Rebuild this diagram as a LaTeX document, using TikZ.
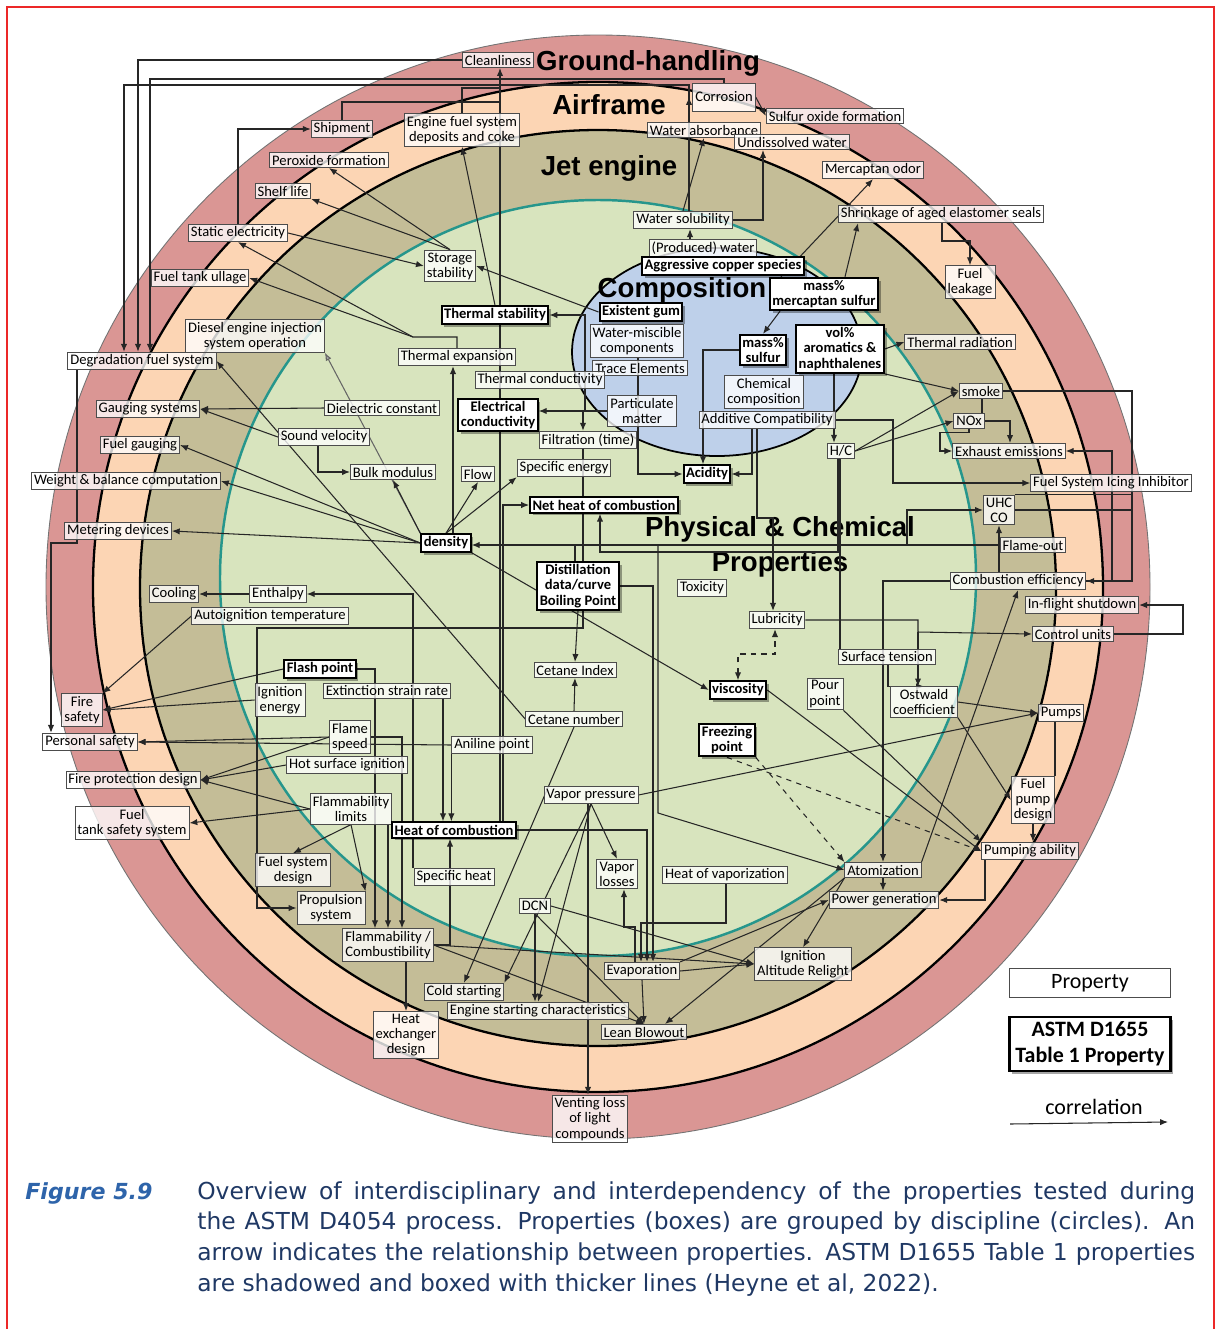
\documentclass[tikz,border=0pt]{standalone}
\usepackage{fontspec}
\usepackage{tikz}
\usetikzlibrary{arrows.meta, shadows}
\newfontfamily\boxfont{Carlito}
\newfontfamily\headfont{Liberation Sans}
\newfontfamily\capfont{DejaVu Sans}
\definecolor{ringred}{RGB}{218,150,148}
\definecolor{ringpeach}{RGB}{252,213,180}
\definecolor{ringtan}{RGB}{196,189,151}
\definecolor{ringgreen}{RGB}{216,228,190}
\definecolor{ringteal}{RGB}{38,150,140}
\definecolor{compblue}{RGB}{190,208,234}
\definecolor{framered}{RGB}{236,40,40}
\definecolor{figblue}{RGB}{46,100,170}
\definecolor{capnavy}{RGB}{31,56,100}
\pgfdeclarelayer{rings}
\pgfdeclarelayer{lines}
\pgfsetlayers{rings,lines,main}
\tikzstyle{prop} = [rectangle, draw=black!70, line width=0.5pt, fill=white, fill opacity=0.78, text opacity=1, inner sep=1.4pt, align=center, font=\boxfont\fontsize{8.3}{8.6}\selectfont]
\tikzstyle{tableprop} = [prop, draw=black, line width=1.2pt, fill opacity=1, font=\boxfont\bfseries\fontsize{8.3}{8.6}\selectfont, drop shadow={shadow xshift=1.6pt, shadow yshift=-1.6pt, opacity=0.35, fill=black}]
\tikzstyle{ringtitle} = [font=\headfont\bfseries\fontsize{15.7}{19.9}\selectfont, align=center, inner sep=0pt]
\tikzstyle{link} = [draw=black!85, line width=0.6pt, ->, >={Latex[length=4.5pt,width=3.6pt]}]
\tikzstyle{dlink} = [link, dashed]
\tikzstyle{plain} = [draw=black!85, line width=0.6pt]

\begin{document}
\begin{tikzpicture}[x=0.02cm, y=-0.02cm]
        \useasboundingbox (0,0) rectangle (1219,1329);
        \draw [framered, line width=1.2pt] (7,1329) -- (7,7) -- (1214,7) -- (1214,1329);

        \node (clean) [prop] at (498,60) {Cleanliness};
        \node (shipment) [prop] at (342,129) {Shipment};
        \node (engine-deposits) [prop] at (462,130) {Engine fuel system\\deposits and coke};
        \node (corrosion) [prop, minimum height=0.56cm] at (724,97) {Corrosion};
        \node (sulfur-oxide) [prop] at (835,116) {Sulfur oxide formation};
        \node (water-absorb) [prop] at (704,130) {Water absorbance};
        \node (undissolved) [prop] at (792,142) {Undissolved water};
        \node (mercaptan-odor) [prop] at (873,170) {Mercaptan odor};
        \node (peroxide) [prop] at (329,160) {Peroxide formation};
        \node (shelf-life) [prop] at (283,191) {Shelf life};
        \node (static) [prop] at (238,233) {Static electricity};
        \node (water-sol) [prop] at (683,220) {Water solubility};
        \node (shrinkage) [prop] at (941,214) {Shrinkage of aged elastomer seals};
        \node (produced-water) [prop] at (703,248) {(Produced) water};
        \node (copper) [tableprop] at (723,266) {Aggressive copper species};
        \node (storage) [prop] at (450,266) {Storage\\stability};
        \node (ullage) [prop] at (200,278) {Fuel tank ullage};
        \node (fuel-leakage) [prop] at (970,282) {Fuel\\leakage};
        \node (mercaptan) [tableprop] at (824,294) {mass\%\\mercaptan sulfur};
        \node (gum) [tableprop] at (641,312) {Existent gum};
        \node (thermal-stab) [tableprop] at (495,315) {Thermal stability};
        \node (water-misc) [prop] at (637,341) {Water-miscible\\components};
        \node (diesel) [prop] at (255,336) {Diesel engine injection\\system operation};
        \node (degradation) [prop] at (142,361) {Degradation fuel system};
        \node (thermal-exp) [prop] at (457,357) {Thermal expansion};
        \node (sulfur) [tableprop] at (763,350) {mass\%\\sulfur};
        \node (aromatics) [tableprop] at (840,349) {vol\%\\aromatics \&\\naphthalenes};
        \node (thermal-rad) [prop] at (960,342) {Thermal radiation};
        \node (trace) [prop] at (640,368) {Trace Elements};
        \node (thermal-cond) [prop] at (540,380) {Thermal conductivity};
        \node (chem-comp) [prop] at (764,392) {Chemical\\composition};
        \node (smoke) [prop] at (981,391) {smoke};
        \node (gauging-sys) [prop] at (148,409) {Gauging systems};
        \node (dielectric) [prop] at (382,408) {Dielectric constant};
        \node (elec-cond) [tableprop] at (498,415) {Electrical\\conductivity};
        \node (particulate) [prop] at (642,411) {Particulate\\matter};
        \node (additive) [prop] at (767,420) {Additive Compatibility};
        \node (nox) [prop] at (969,421) {NOx};
        \node (sound) [prop] at (324,437) {Sound velocity};
        \node (fuel-gauging) [prop] at (140,445) {Fuel gauging};
        \node (filtration) [prop] at (588,440) {Filtration (time)};
        \node (hc) [prop] at (841,451) {H/C};
        \node (exhaust) [prop] at (1009,451) {Exhaust emissions};
        \node (bulk) [prop] at (393,472) {Bulk modulus};
        \node (flow) [prop] at (478,474) {Flow};
        \node (spec-energy) [prop] at (564,468) {Specific energy};
        \node (acidity) [tableprop] at (707,474) {Acidity};
        \node (weight) [prop] at (126,481) {Weight \& balance computation};
        \node (fsii) [prop] at (1111,483) {Fuel System Icing Inhibitor};
        \node (net-heat) [tableprop] at (604,505) {Net heat of combustion};
        \node (uhc) [prop] at (999,510) {UHC\\CO};
        \node (metering) [prop] at (118,531) {Metering devices};
        \node (density) [tableprop] at (446,543) {density};
        \node (flame-out) [prop] at (1033,545) {Flame-out};
        \node (distillation) [tableprop] at (578,586) {Distillation\\data/curve\\Boiling Point};
        \node (toxicity) [prop] at (702,588) {Toxicity};
        \node (comb-eff) [prop] at (1018,581) {Combustion efficiency};
        \node (cooling) [prop] at (174,594) {Cooling};
        \node (enthalpy) [prop] at (278,594) {Enthalpy};
        \node (autoignition) [prop] at (270,616) {Autoignition temperature};
        \node (inflight) [prop] at (1082,605) {In-flight shutdown};
        \node (lubricity) [prop] at (777,620) {Lubricity};
        \node (control) [prop] at (1073,634) {Control units};
        \node (surface) [prop] at (887,657) {Surface tension};
        \node (flash) [tableprop] at (320,669) {Flash point};
        \node (cetane-index) [prop] at (575,670) {Cetane Index};
        \node (pour) [prop] at (825,694) {Pour\\point};
        \node (viscosity) [tableprop] at (738,690) {viscosity};
        \node (ostwald) [prop] at (924,702) {Ostwald\\coefficient};
        \node (ign-energy) [prop] at (280,700) {Ignition\\energy};
        \node (extinction) [prop] at (387,691) {Extinction strain rate};
        \node (fire-safety) [prop] at (82,710) {Fire\\safety};
        \node (pumps) [prop] at (1061,713) {Pumps};
        \node (cetane-number) [prop] at (574,719) {Cetane number};
        \node (freezing) [tableprop] at (727,740) {Freezing\\point};
        \node (flame-speed) [prop] at (350,737) {Flame\\speed};
        \node (personal) [prop] at (90,742) {Personal safety};
        \node (aniline) [prop] at (492,745) {Aniline point};
        \node (hot-surface) [prop] at (347,765) {Hot surface ignition};
        \node (fire-prot) [prop] at (133,780) {Fire protection design};
        \node (vapor-press) [prop] at (591,795) {Vapor pressure};
        \node (pump-design) [prop] at (1033,800) {Fuel\\pump\\design};
        \node (flam-limits) [prop] at (351,809) {Flammability\\limits};
        \node (tank-safety) [prop] at (132,823) {Fuel\\tank safety system};
        \node (heat-comb) [tableprop] at (454,830) {Heat of combustion};
        \node (pumping) [prop] at (1030,851) {Pumping ability};
        \node (fuel-sys-design) [prop] at (293,870) {Fuel system\\design};
        \node (vapor-losses) [prop] at (617,874) {Vapor\\losses};
        \node (heat-vap) [prop] at (725,875) {Heat of vaporization};
        \node (spec-heat) [prop] at (454,877) {Specific heat};
        \node (atomization) [prop] at (883,870) {Atomization};
        \node (propulsion) [prop] at (331,908) {Propulsion\\system};
        \node (power) [prop] at (884,900) {Power generation};
        \node (dcn) [prop] at (535,906) {DCN};
        \node (flam-comb) [prop] at (388,945) {Flammability /\\Combustibility};
        \node (relight) [prop] at (803,964) {Ignition\\Altitude Relight};
        \node (evaporation) [prop] at (642,971) {Evaporation};
        \node (cold) [prop] at (464,992) {Cold starting};
        \node (eng-start) [prop] at (538,1011) {Engine starting characteristics};
        \node (heat-exch) [prop] at (406,1035) {Heat\\exchanger\\design};
        \node (lean) [prop] at (644,1032) {Lean Blowout};
        \node (venting) [prop] at (590,1119) {Venting loss\\of light\\compounds};

        \node (leg-prop) [prop, fill opacity=1, minimum width=3.22cm, minimum height=0.58cm, font=\boxfont\fontsize{12.5}{14}\selectfont] at (1090,983) {Property};
        \node (leg-table) [tableprop, minimum width=3.22cm, minimum height=1.08cm, font=\boxfont\bfseries\fontsize{12.5}{15}\selectfont] at (1090,1044) {ASTM D1655\\Table 1 Property};
        \node (leg-corr) [font=\boxfont\fontsize{12.5}{14}\selectfont] at (1094,1107) {correlation};
        \coordinate (corr-start) at (1010,1124);
        \coordinate (corr-end) at (1168,1122);

        \coordinate (j-texp) at (413,337);
        \coordinate (j-ship) at (500,102);
        \coordinate (j-dep) at (500,88);

        \begin{pgfonlayer}{rings}
        \filldraw [fill=ringred, draw=black!55, line width=0.5pt] (598,587) circle [radius=552];
        \filldraw [fill=ringpeach, draw=black, line width=1.3pt] (598,587) circle [radius=505];
        \filldraw [fill=ringtan, draw=black, line width=1.3pt] (598,588) circle [radius=458];
        \filldraw [fill=ringgreen, draw=ringteal, line width=1.4pt] (598,578) circle [radius=378];
        \filldraw [fill=compblue, draw=black, line width=1pt] (717,352) ellipse [x radius=145, y radius=104];
        \node (title-ground) [ringtitle] at (648,63) {Ground-handling};
        \node (title-airframe) [ringtitle] at (609,105) {Airframe};
        \node (title-jet) [ringtitle] at (609,168) {Jet engine};
        \node (title-comp) [ringtitle] at (682,290) {Composition};
        \node (title-phys) [ringtitle] at (780,547) {Physical \& Chemical\\Properties};
        \end{pgfonlayer}

        \begin{pgfonlayer}{lines}
        \draw [link] (corr-start) -- (corr-end);

        \draw [link] (clean.west) -| (138,0 |- degradation.north);
        \draw [link] (corrosion.north) |- (150,79) -- (150,0 |- degradation.north);
        \draw [link] (689,0 |- water-sol.north) |- (124,85) -- (124,0 |- degradation.north);
        \draw [link] (689,0 |- water-sol.north) -- (689,0 |- corrosion.west);
        \draw [link] (corrosion.east) -- (sulfur-oxide.west);
        \draw [link] (500,0 |- heat-comb.north) -- (500,0 |- clean.south);
        \draw [plain] (j-ship) -| (shipment.north);
        \draw [plain] (j-dep) -| (engine-deposits.north);
        \draw [link] (503,0 |- heat-comb.north) |- (net-heat.west);
        \draw [link] (static.north) |- (shipment.west);
        \draw [link] (storage.north) -- (peroxide.south);
        \draw [link] (storage.north) -- (shelf-life.south east);
        \draw [link] (static.east) -- (storage.west);
        \draw [link] (gum.west) -- (storage.east);
        \draw [link] (thermal-stab.north) -- (engine-deposits.south);
        \draw [link] (particulate.west) -| (585,0 |- thermal-stab.east) -- (thermal-stab.east);
        \draw [link] (thermal-exp.north) |- (j-texp) -- (static.south);
        \draw [link] (j-texp) -- (ullage.east);
        \draw [link, >={Latex[length=4.5pt,width=3.6pt,fill=black!35]}, draw=black!60] (density.north west) -- (diesel.south east);
        \draw [link] (cetane-number.west) -- (degradation.east);

        \draw [link] (dielectric.west) -- (gauging-sys.east);
        \draw [link] (sound.west) -- (gauging-sys.east);
        \draw [link] (318,0 |- sound.south) |- (bulk.west);
        \draw [link] (density.west) -- (fuel-gauging.east);
        \draw [link] (density.west) -- (weight.east);
        \draw [link] (density.west) -- (metering.east);
        \draw [link] (77,0 |- degradation.south) |- (51,543) -- (51,0 |- personal.north);
        \draw [link] (density.north) -- (flow.south);
        \draw [link] (density.north) -- (spec-energy.south west);
        \draw [link] (453,0 |- density.north) -- (453,0 |- thermal-exp.south);
        \draw [link] (density.north west) -- (bulk.south);
        \draw [link] (density.south east) -- (viscosity.west);
        \draw [link] (flame-out.west) -- (flame-out.west -| density.east);
        \draw [link] (907,0 |- flame-out.west) |- (uhc.west);
        \draw [link] (658,0 |- flame-out.west) -- (658,813) -- (atomization.west);
        \draw [plain] (575,0 |- distillation.north) -- (575,0 |- flame-out.west);

        \draw [link] (particulate.west) -- (particulate.west -| elec-cond.east);
        \draw [link] (particulate.west) -| (583,0 |- filtration.north);
        \draw [plain] (583,0 |- filtration.south) -- (583,0 |- distillation.north);
        \draw [link] (638,0 |- water-misc.south) |- (acidity.west);
        \draw [link] (sulfur.west) -| (703,0 |- acidity.north);
        \draw [link] (752,0 |- additive.south) |- (acidity.east);
        \draw [link] (780,0 |- mercaptan.south) -- (sulfur.north);
        \draw [link] (781,0 |- mercaptan.north) -- (mercaptan-odor.south);
        \draw [link] (845,0 |- mercaptan.north) -- (858,0 |- shrinkage.south);
        \draw [link] (942,0 |- shrinkage.south) -- (942,241) -| (fuel-leakage.north);
        \draw [link] (water-sol.north) -- (water-absorb.south);
        \draw [link] (690,0 |- produced-water.north) -- (690,0 |- water-sol.south);
        \draw [link] (water-sol.east) -| (763,0 |- undissolved.south);

        \draw [link] (aromatics.east) -- (thermal-rad.west);
        \draw [link] (aromatics.south east) -- (smoke.west);
        \draw [link] (834,0 |- aromatics.south) -- (834,0 |- hc.north);
        \draw [link] (hc.east) -- (smoke.west);
        \draw [link] (hc.east) -- (nox.west);
        \draw [link] (nox.east) -| (1010,0 |- exhaust.north);
        \draw [link] (nox.south) -- ++(0,4) -| (940,451) -- (exhaust.west);
        \draw [link] (smoke.east) -| (1132,581) -- (comb-eff.east);
        \draw [plain] (uhc.east) -- (1132,0 |- uhc.east);
        \draw [plain] (uhc.north east) -- (1132,0 |- uhc.north east);
        \draw [link] (comb-eff.east) -| (1112,0 |- exhaust.east) -- (exhaust.east);
        \draw [link] (999,0 |- comb-eff.north) -- (uhc.south);
        \draw [plain] (982,0 |- smoke.south) -- (982,0 |- nox.north);
        \draw [link] (additive.east) -| (893,483) -- (fsii.west);
        \draw [link] (757,0 |- additive.south) |- (773,518) -- (773,0 |- lubricity.north);
        \draw [link] (838,0 |- hc.south) |- (600,552) -- (600,0 |- net-heat.south);
        \draw [plain] (840,0 |- hc.south) -- (840,0 |- surface.north);

        \draw [dlink, <->] (viscosity.north) |- (775,654) -- (775,0 |- lubricity.south);
        \draw [link] (lubricity.east) -| (918,632) -- (control.west);
        \draw [link] (918,632) -- (918,0 |- ostwald.north);
        \draw [link] (888,0 |- surface.south) |- (ostwald.north);
        \draw [link] (control.east) -| (1183,605) -- (inflight.east);
        \draw [link] (comb-eff.west) -| (883,0 |- atomization.north);
        \draw [link] (atomization.north east) -- (comb-eff.south);
        \draw [link] (pour.south east) -- (pumping.north west);
        \draw [link] (viscosity.east) -- (pumping.west);
        \draw [dlink] (freezing.south) -- (pumping.west);
        \draw [dlink] (freezing.south east) -- (atomization.north west);
        \draw [link] (vapor-press.east) -- (pumps.west);
        \draw [link] (ostwald.east) -- (pumps.west);
        \draw [link] (ostwald.south east) -- (pump-design.west);
        \draw [plain] (1055,0 |- pumps.south) -- (1055,0 |- pump-design.north);
        \draw [link] (pump-design.south) -- (pump-design.south |- pumping.north);
        \draw [link] (985,0 |- pumping.south) |- (power.east);
        \draw [link] (atomization.south) -- (atomization.south |- power.north);
        \draw [link] (atomization.south west) -- (665,0 |- lean.north);
        \draw [link] (atomization.south west) -- (relight.north);

        \draw [link] (evaporation.north east) -- (power.west);
        \draw [link] (evaporation.east) -- (relight.west);
        \draw [link] (flam-comb.east) -- (relight.west);
        \draw [link] (dcn.east) -- (relight.west);
        \draw [link] (flam-comb.east) -- (lean.north);
        \draw [link] (dcn.south) -- (dcn.south |- eng-start.north);
        \draw [link] (dcn.south) -- (lean.north);
        \draw [link] (vapor-press.south) -- (vapor-losses.north);
        \draw [link] (vapor-press.south) -- (cold.north east);
        \draw [link] (vapor-press.south) -- (eng-start.north);
        \draw [link] (588,0 |- vapor-press.south) -- (588,0 |- venting.north);
        \draw [link] (cetane-number.south) -- (cold.north);
        \draw [link] (cetane-number.north) -- (cetane-index.south);
        \draw [link] (distillation.south) -- (cetane-index.north);
        \draw [link] (583,0 |- distillation.south) |- (257,628) |- (propulsion.west);
        \draw [link] (distillation.east) -| (653,0 |- evaporation.north);
        \draw [link] (heat-comb.east) -| (647,0 |- evaporation.north);
        \draw [link] (726,0 |- heat-vap.south) |- (641,923) -- (641,0 |- evaporation.north);
        \draw [link] (635,0 |- evaporation.north) |- (624,927) -- (624,0 |- vapor-losses.south);
        \draw [link] (evaporation.south) -- (lean.north);
        \draw [link] (406,0 |- flam-comb.south) -- (406,0 |- heat-exch.north);

        \draw [link] (flash.east) -| (375,0 |- flam-comb.north);
        \draw [link] (flame-speed.east) -| (402,0 |- flam-comb.north);
        \draw [link] (388,0 |- flam-limits.south) -- (388,0 |- flam-comb.north);
        \draw [link] (aniline.south west) -- (aniline.south west |- heat-comb.north);
        \draw [link] (443,0 |- extinction.south) -- (443,0 |- heat-comb.north);
        \draw [link] (413,0 |- spec-heat.north) |- (enthalpy.east);
        \draw [link] (flam-comb.east) -| (450,0 |- heat-comb.south);
        \draw [link] (enthalpy.west) -- (cooling.east);
        \draw [link] (autoignition.west) -- (fire-safety.north east);
        \draw [link] (flash.west) -- (fire-safety.east);
        \draw [link] (ign-energy.west) -- (fire-safety.east);
        \draw [link] (flame-speed.west) -- (personal.east);
        \draw [link] (aniline.west) -- (personal.east);
        \draw [link] (flame-speed.west) -- (fire-prot.east);
        \draw [link] (hot-surface.west) -- (fire-prot.east);
        \draw [link] (flam-limits.west) -- (fire-prot.east);
        \draw [link] (flam-limits.west) -- (tank-safety.east);
        \draw [link] (flam-limits.south) -- (fuel-sys-design.north);
        \draw [link] (flam-limits.south) -- (propulsion.north east);
        \end{pgfonlayer}

        \node (fig-label) [anchor=base west, inner sep=0pt, text=figblue, font=\capfont\bfseries\itshape\fontsize{12.6}{17.6}\selectfont] at (25,1199) {Figure 5.9};
        \node (fig-caption) [anchor=base west, inner sep=0pt, text width=19.96cm, align=justify, text=capnavy, font=\capfont\fontsize{13.3}{17.6}\selectfont] at (197,1199) {Overview of interdisciplinary and interdependency of the properties tested during\linebreak the ASTM D4054 process. Properties (boxes) are grouped by discipline (circles). An\linebreak arrow indicates the relationship between properties. ASTM D1655 Table 1 properties\linebreak are shadowed and boxed with thicker lines (Heyne et al, 2022).};
    \end{tikzpicture}
\end{document}
